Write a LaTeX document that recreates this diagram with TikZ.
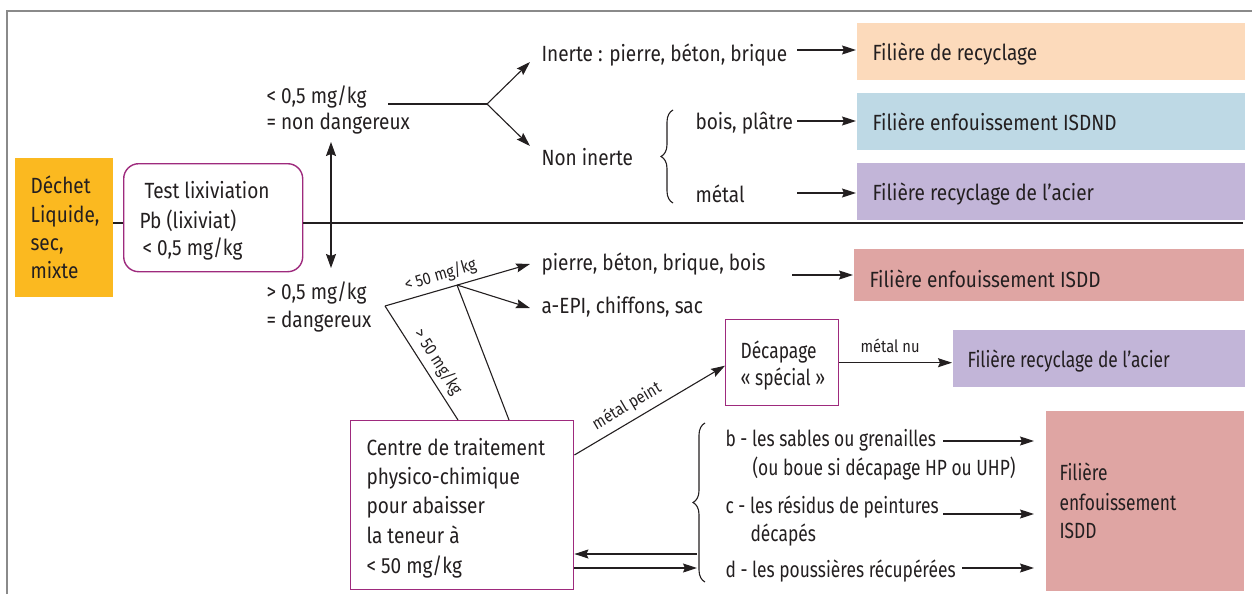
\documentclass[tikz,border=0pt]{standalone}
\usepackage{fontspec}
\setmainfont{Fira Sans}[FakeStretch=0.865]
\newfontfamily\narrowfont{Fira Sans}[FakeStretch=0.79]
\usetikzlibrary{arrows.meta,decorations.pathreplacing,calc}
\definecolor{ink}{HTML}{231F20}
\definecolor{orng}{HTML}{FBB920}
\definecolor{peach}{HTML}{FCDABB}
\definecolor{skyb}{HTML}{BED9E5}
\definecolor{lav}{HTML}{C2B5D8}
\definecolor{rose}{HTML}{DFA5A3}
\definecolor{purp}{HTML}{9E2A7D}
\definecolor{framegray}{HTML}{8A8A8A}
\begin{document}
\begin{tikzpicture}[x=1pt,y=-1pt,
  line width=1.1pt, ink,
  every node/.style={font=\fontsize{22}{28}\selectfont, text=ink},
  txt/.style={anchor=base west, inner sep=0pt},
  ntxt/.style={anchor=base west, inner sep=0pt, font=\narrowfont\fontsize{22}{28}\selectfont},
  small/.style={font=\fontsize{17}{19}\selectfont, inner sep=0pt},
  arr/.style={-{Stealth[length=14pt,width=9pt,inset=2pt]}},
  darr/.style={{Stealth[length=14pt,width=10pt,inset=2pt]}-{Stealth[length=14pt,width=10pt,inset=2pt]}},
  fillbox/.style={draw=none, inner sep=0pt, anchor=north west},
  framebox/.style={draw=purp, line width=1.4pt, fill=white, inner sep=0pt, anchor=north west},
  brc/.style={decorate, decoration={brace, amplitude=12pt}, line width=1.1pt}
]
\useasboundingbox (0,0) rectangle (1252,594);

% outer frame
\draw[framegray, line width=1.8pt] (7,594) -- (7,11) -- (1252,11);

% boxes
\node[fillbox, fill=orng, minimum width=98pt, minimum height=139pt] (dechet) at (14,157) {};
\node[framebox, rounded corners=15pt, minimum width=179pt, minimum height=108pt] (test) at (123,163) {};
\node[fillbox, fill=peach, minimum width=388pt, minimum height=57pt] (recyc) at (856,22) {};
\node[fillbox, fill=skyb, minimum width=388pt, minimum height=57pt] (isdnd) at (856,92) {};
\node[fillbox, fill=lav, minimum width=388pt, minimum height=57pt] (acier) at (856,162) {};
\node[fillbox, fill=rose, minimum width=390pt, minimum height=52pt] (isdd) at (853,248) {};
\node[framebox, minimum width=223pt, minimum height=169pt] (centre) at (350,420) {};
\node[framebox, minimum width=113pt, minimum height=86pt] (decap) at (725,319) {};
\node[fillbox, fill=lav, minimum width=292pt, minimum height=57pt] (acierb) at (952,329) {};
\node[fillbox, fill=rose, minimum width=198pt, minimum height=180pt] (isddb) at (1045,410) {};

% texts
\node[txt] (d1) at (30,193) {Déchet};
\node[txt] (d2) at (30,222) {Liquide,};
\node[txt] (d3) at (30,250) {sec,};
\node[txt] (d4) at (30,278) {mixte};

\node[txt] (t1) at (144,198) {Test lixiviation};
\node[txt] (t2) at (139,228) {Pb (lixiviat)};
\node[txt] (t3) at (142,255) {< 0,5 mg/kg};

\node[txt] (lt1) at (266,103) {< 0,5 mg/kg};
\node[txt] (lt2) at (266,129) {= non dangereux};
\node[txt] (gt1) at (266,299) {> 0,5 mg/kg};
\node[txt] (gt2) at (266,327) {= dangereux};

\node[txt] (inerte) at (541,62) {Inerte : pierre, béton, brique};
\node[txt] (noninerte) at (541,165) {Non inerte};
\node[txt] (bois) at (695,129) {bois, plâtre};
\node[txt] (metal) at (695,202) {métal};

\node[txt] (recyct) at (872,60) {Filière de recyclage};
\node[txt] (isdndt) at (872,130) {Filière enfouissement ISDND};
\node[txt] (aciert) at (872,200) {Filière recyclage de l’acier};

\node[txt] (pbbb) at (541,270) {pierre, béton, brique, bois};
\node[txt] (epi) at (541,313) {a-EPI, chiffons, sac};
\node[txt] (isddt) at (869,287) {Filière enfouissement ISDD};

\node[txt] (c1) at (366,455) {Centre de traitement};
\node[txt] (c2) at (366,484) {physico-chimique};
\node[txt] (c3) at (366,513) {pour abaisser};
\node[txt] (c4) at (366,543) {la teneur à};
\node[txt] (c5) at (366,573) {< 50 mg/kg};

\node[ntxt] (dc1) at (740,358) {Décapage};
\node[ntxt] (dc2) at (740,385) {« spécial »};
\node[ntxt] (acierbt) at (967,367) {Filière recyclage de l’acier};

\node[ntxt] (b1) at (725,446) {b - les sables ou grenailles};
\node[ntxt] (b2) at (752,475) {(ou boue si décapage HP ou UHP)};
\node[ntxt] (cc1) at (725,513) {c - les résidus de peintures};
\node[ntxt] (cc2) at (750,541) {décapés};
\node[ntxt] (dd) at (725,577) {d - les poussières récupérées};

\node[ntxt] (f1) at (1059,480) {Filière};
\node[ntxt] (f2) at (1059,510) {enfouissement};
\node[ntxt] (f3) at (1059,538) {ISDD};

% connector end points
\coordinate (axis) at (0,223);
\coordinate (axisend) at (1243,223);
\coordinate (va) at (331,142);
\coordinate (vb) at (331,268);
\coordinate (f0) at (388,104);
\coordinate (fork) at (487,104);
\coordinate (ti) at (530,62);
\coordinate (tn) at (530,146);
\coordinate (s1) at (797,50);
\coordinate (s2) at (797,121);
\coordinate (s3) at (797,193);
\coordinate (g0) at (385,306);
\coordinate (g1) at (457,285);
\coordinate (tp) at (530,264);
\coordinate (te) at (530,308);
\coordinate (s4) at (792,275);
\coordinate (sb) at (943,441);
\coordinate (eb) at (1034,441);
\coordinate (sc) at (943,514);
\coordinate (ec) at (1034,514);
\coordinate (sd) at (962,568);
\coordinate (ed) at (1034,568);
\coordinate (bk1) at (697,554);
\coordinate (bk2) at (697,568);

% main axis
\draw (dechet.east |- axis) -- (test.west |- axis);
\draw[line width=1.5pt] (test.east |- axis) -- (axisend);
\draw[darr] (va) -- (vb);

% non hazardous branch
\draw (f0) -- (fork);
\draw[arr] (fork) -- (ti);
\draw[arr] (fork) -- (tn);
\draw[brc] (673,203) -- (673,110);
\draw[arr] (s1) -- (recyc.west |- s1);
\draw[arr] (s2) -- (isdnd.west |- s2);
\draw[arr] (s3) -- (acier.west |- s3);

% hazardous branch
\draw[arr] (g0) -- node[small, sloped, above=5pt, pos=0.41] {< 50 mg/kg} (tp);
\draw[arr] (g1) -- (te);
\draw (g0) -- node[small, sloped, above=5pt, pos=0.56] {> 50 mg/kg} ([xshift=108pt]centre.north west);
\draw (g1) -- ([xshift=159pt]centre.north west);
\draw[arr] (s4) -- (isdd.west |- s4);

\draw[arr] ([yshift=-35pt]centre.north east) -- node[small, sloped, above=6pt, pos=0.4] {métal peint} ([yshift=-3pt]decap.west);
\draw[arr] (decap.east) -- node[small, above=9pt, pos=0.45] {métal nu} (decap.east -| acierb.west);

\draw[brc] (705,582) -- (705,423);
\draw[arr] (sb) -- (eb);
\draw[arr] (sc) -- (ec);
\draw[arr] (sd) -- (ed);
\draw[arr] (bk1) -- (centre.east |- bk1);
\draw[arr] (centre.east |- bk2) -- (bk2);
\end{tikzpicture}
\end{document}
